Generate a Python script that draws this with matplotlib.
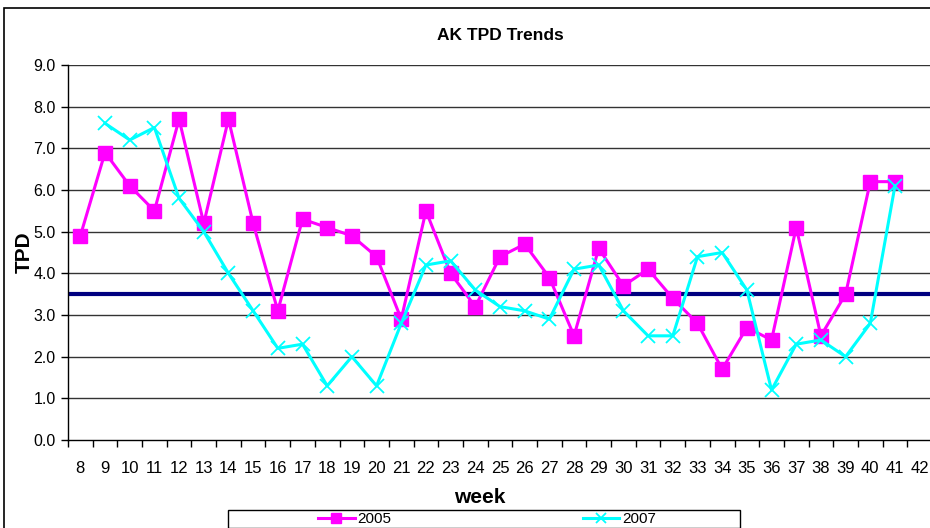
import numpy as np
import matplotlib
matplotlib.use("Agg")
import matplotlib.pyplot as plt
from matplotlib.patches import Rectangle
from matplotlib.ticker import FixedLocator, NullFormatter

plt.rcParams['font.family'] = ['Liberation Sans', 'DejaVu Sans']

weeks = list(range(8, 43))
weeks_2005 = list(range(8, 42))
tpd_2005 = [4.9, 6.9, 6.1, 5.5, 7.7, 5.2, 7.7, 5.2, 3.1, 5.3, 5.1, 4.9, 4.4, 2.9,
            5.5, 4.0, 3.2, 4.4, 4.7, 3.9, 2.5, 4.6, 3.7, 4.1, 3.4, 2.8, 1.7, 2.7,
            2.4, 5.1, 2.5, 3.5, 6.2, 6.2]
weeks_2007 = list(range(9, 42))
tpd_2007 = [7.6, 7.2, 7.5, 5.8, 5.0, 4.0, 3.1, 2.2, 2.3, 1.3, 2.0, 1.3, 2.8, 4.2,
            4.3, 3.6, 3.2, 3.1, 2.9, 4.1, 4.2, 3.1, 2.5, 2.5, 4.4, 4.5, 3.6, 1.2,
            2.3, 2.4, 2.0, 2.8, 6.1]
target = 3.5
y_ticks = np.arange(0, 9.5, 1.0)

fig = plt.figure(figsize=(9.3, 5.28), dpi=100)
ax = fig.add_axes([68/930, 1 - 440/528, (932 - 68)/930, 375/528])

for y in y_ticks[1:]:
    ax.axhline(y, color='#333333', lw=1.0, zorder=1)
ax.axhline(target, color='#000080', lw=3.0, zorder=2)

ax.plot(weeks_2005, tpd_2005, color='#ff00ff', lw=2.2, marker='s', ms=9.5,
        markeredgecolor='#ff00ff', label='2005', zorder=3)
ax.plot(weeks_2007, tpd_2007, color='#00ffff', lw=2.2, marker='x', ms=10,
        mew=1.3, label='2007', zorder=4)

ax.set_xlim(7.5, 42.5)
ax.set_ylim(0, 9)
ax.set_yticks(y_ticks)
ax.set_yticklabels(['%.1f' % v for v in y_ticks], fontsize=11.5)
ax.tick_params(axis='y', direction='out', length=5, width=1, pad=4)

ax.xaxis.set_major_locator(FixedLocator(np.arange(7.5, 43, 1.0)))
ax.xaxis.set_major_formatter(NullFormatter())
ax.xaxis.set_minor_locator(FixedLocator(weeks))
ax.set_xticklabels([str(w) for w in weeks], minor=True, fontsize=12)
ax.tick_params(axis='x', which='major', direction='out', length=5, width=1)
ax.tick_params(axis='x', which='minor', length=0, pad=15)

for s in ['top', 'right']:
    ax.spines[s].set_visible(False)
ax.spines['left'].set_linewidth(1)
ax.spines['bottom'].set_linewidth(1)

ax.set_title('AK TPD Trends', fontsize=12.5, fontweight='bold', pad=18)
ax.set_ylabel('TPD', fontsize=15, fontweight='bold')
ax.yaxis.set_label_coords((34 - 68) / 864, 0.5)
ax.set_xlabel('week', fontsize=15, fontweight='bold')
ax.xaxis.set_label_coords((480 - 68) / 864, (440 - 488) / 375)

# legend box
fig.patches.append(Rectangle((228/930, 1 - 528/528), (740 - 228)/930, 18/528,
                             transform=fig.transFigure, fill=False,
                             edgecolor='black', lw=1.0))
fig.legend(loc='center', ncol=2, bbox_to_anchor=(487/930, 1 - 519/528),
           frameon=False, fontsize=11, handlelength=2.4, handletextpad=0.2,
           columnspacing=12.5, markerscale=0.75, borderpad=0)

fig.patches.append(Rectangle((4/930, -0.1), 1.2, 1 - 8/528 + 0.1, transform=fig.transFigure,
                             fill=False, edgecolor='black', lw=1.2))

fig.savefig('out.png', dpi=100)
